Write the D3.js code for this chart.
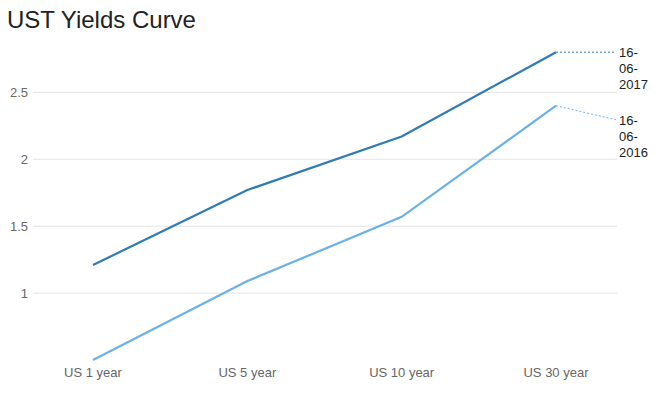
<!DOCTYPE html>
<html><head><meta charset="utf-8">
<script src="https://cdn.jsdelivr.net/npm/d3@7"></script>
<style>body{margin:0;background:#fff;}svg{display:block;font-family:"Liberation Sans",Arial,sans-serif;}</style>
</head><body>
<svg id="c" width="669" height="407"></svg>
<script>
const categories = ["US 1 year","US 5 year","US 10 year","US 30 year"];
const series2017 = [1.21,1.77,2.17,2.80];
const series2016 = [0.50,1.09,1.57,2.40];
const seriesNames = ["16-06-2017","16-06-2016"];
const yTicks = [1,1.5,2,2.5];

const svg = d3.select("#c");
const x = d3.scalePoint().domain(categories).range([93,556]);
const y = d3.scaleLinear().domain([0.5,2.8]).range([360,52.2]);

svg.append("text").attr("x",7).attr("y",28).attr("font-size",24).attr("fill","#222").text("UST Yields Curve");

const g = svg.append("g");
g.selectAll("line.grid").data(yTicks).enter().append("line")
  .attr("x1",33).attr("x2",617).attr("y1",d=>y(d)).attr("y2",d=>y(d))
  .attr("stroke","#e3e3e3").attr("stroke-width",1);
g.selectAll("text.yt").data(yTicks).enter().append("text")
  .attr("x",28).attr("y",d=>y(d)+4.5).attr("text-anchor","end")
  .attr("font-size",13).attr("fill","#666").text(d=>d);
g.selectAll("text.xt").data(categories).enter().append("text")
  .attr("x",d=>x(d)).attr("y",377).attr("text-anchor","middle")
  .attr("font-size",13).attr("fill","#666").text(d=>d);

const line = d3.line().x((d,i)=>x(categories[i])).y(d=>y(d));
const colors = ["#2f7bb6","#6bb1e9"];
[series2017,series2016].forEach((s,k)=>{
  svg.append("path").datum(s).attr("d",line).attr("fill","none")
    .attr("stroke",colors[k]).attr("stroke-width",2.2);
});

// end labels
const labelY = [y(series2017[3]), y(series2016[3])+14];
[series2017,series2016].forEach((s,k)=>{
  const ex = x(categories[3]), ey = y(s[3]);
  svg.append("line").attr("x1",ex).attr("y1",ey).attr("x2",616).attr("y2",labelY[k])
    .attr("stroke",colors[k]).attr("stroke-width",1).attr("stroke-dasharray","2,2");
  const parts = seriesNames[k].split("-");
  const t = svg.append("text").attr("font-size",13).attr("fill","#222");
  parts.forEach((p,i)=>{
    t.append("tspan").attr("x",619).attr("y",labelY[k]+5+i*16).text(i<parts.length-1?p+"-":p);
  });
});
</script>
</body></html>
